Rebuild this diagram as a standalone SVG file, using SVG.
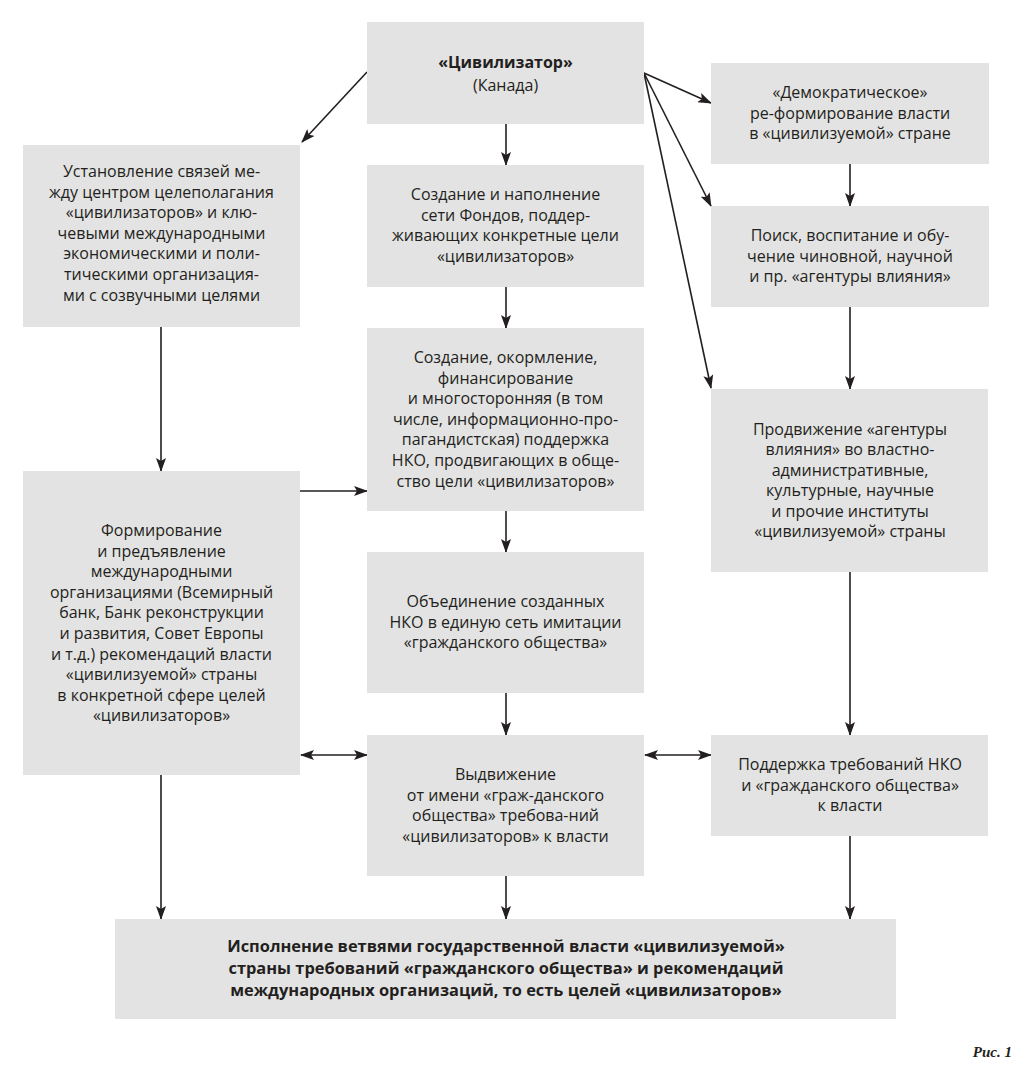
<svg xmlns="http://www.w3.org/2000/svg" width="1033" height="1080" viewBox="0 0 1033 1080">
<style>
.box{fill:#e3e3e3}
.t{font-family:"Open Sans","Noto Sans","DejaVu Sans",sans-serif;font-size:16px;fill:#231f20;text-anchor:middle}
.b{font-weight:bold}
.big{font-size:16.4px}
.c{stroke:#231f20;stroke-width:1.6;fill:none;marker-end:url(#ah)}
.d{marker-start:url(#ahs)}
.cap{font-family:"Liberation Serif",serif;font-size:15px;font-weight:bold;font-style:italic;fill:#231f20}
</style>
<defs>
<marker id="ah" viewBox="0 0 14 10" refX="13" refY="5" markerWidth="14" markerHeight="10" markerUnits="userSpaceOnUse" orient="auto">
<path d="M0,0 L14,5 L0,10 L3,5 z" fill="#231f20"/>
</marker>
<marker id="ahs" viewBox="0 0 14 10" refX="1" refY="5" markerWidth="14" markerHeight="10" markerUnits="userSpaceOnUse" orient="auto">
<path d="M14,0 L0,5 L14,10 L11,5 z" fill="#231f20"/>
</marker>
</defs>
<rect width="1033" height="1080" fill="#ffffff"/>

<g id="connectors">
<line class="c" x1="367" y1="72" x2="302" y2="142"/>
<line class="c" x1="644" y1="73" x2="711" y2="103"/>
<line class="c" x1="644" y1="73" x2="711" y2="206"/>
<line class="c" x1="644" y1="73" x2="711" y2="388"/>
<line class="c" x1="506" y1="124" x2="506" y2="165"/>
<line class="c" x1="506" y1="287" x2="506" y2="328"/>
<line class="c" x1="506" y1="511" x2="506" y2="552"/>
<line class="c" x1="506" y1="693" x2="506" y2="735"/>
<line class="c" x1="506" y1="876" x2="506" y2="919"/>
<line class="c" x1="161" y1="327" x2="161" y2="471"/>
<line class="c" x1="161" y1="775" x2="161" y2="919"/>
<line class="c" x1="850" y1="164" x2="850" y2="206"/>
<line class="c" x1="850" y1="307" x2="850" y2="389"/>
<line class="c" x1="850" y1="572" x2="850" y2="735"/>
<line class="c" x1="850" y1="836" x2="850" y2="919"/>
<line class="c" x1="300" y1="491" x2="367" y2="491"/>
<line class="c d" x1="301" y1="755" x2="367" y2="755"/>
<line class="c d" x1="645" y1="755" x2="711" y2="755"/>
</g>

<g id="n-civ">
<rect class="box" x="367" y="22" width="277" height="102"/>
<text class="t b" x="505.5" y="68">«Цивилизатор»</text>
<text class="t" x="505.5" y="91">(Канада)</text>
</g>

<g id="n-links">
<rect class="box" x="23" y="145" width="277" height="182"/>
<text class="t"><tspan x="161.5" y="177">Установление связей ме-</tspan><tspan x="161.5" dy="20.6">жду центром целеполагания</tspan><tspan x="161.5" dy="20.6">«цивилизаторов» и клю-</tspan><tspan x="161.5" dy="20.6">чевыми международными</tspan><tspan x="161.5" dy="20.6">экономическими и поли-</tspan><tspan x="161.5" dy="20.6">тическими организация-</tspan><tspan x="161.5" dy="20.6">ми с созвучными целями</tspan></text>
</g>

<g id="n-funds">
<rect class="box" x="367" y="165" width="277" height="122"/>
<text class="t"><tspan x="505.5" y="200">Создание и наполнение</tspan><tspan x="505.5" dy="20.6">сети Фондов, поддер-</tspan><tspan x="505.5" dy="20.6">живающих конкретные цели</tspan><tspan x="505.5" dy="20.6">«цивилизаторов»</tspan></text>
</g>

<g id="n-demo">
<rect class="box" x="711" y="63" width="278" height="101"/>
<text class="t"><tspan x="850" y="98">«Демократическое»</tspan><tspan x="850" dy="20.6">ре-формирование власти</tspan><tspan x="850" dy="20.6">в «цивилизуемой» стране</tspan></text>
</g>

<g id="n-search">
<rect class="box" x="711" y="206" width="278" height="101"/>
<text class="t"><tspan x="850" y="241">Поиск, воспитание и обу-</tspan><tspan x="850" dy="20.6">чение чиновной, научной</tspan><tspan x="850" dy="20.6">и пр. «агентуры влияния»</tspan></text>
</g>

<g id="n-nko">
<rect class="box" x="367" y="328" width="277" height="183"/>
<text class="t"><tspan x="505.5" y="363">Создание, окормление,</tspan><tspan x="505.5" dy="20.6">финансирование</tspan><tspan x="505.5" dy="20.6">и многосторонняя (в том</tspan><tspan x="505.5" dy="20.6">числе, информационно-про-</tspan><tspan x="505.5" dy="20.6">пагандистская) поддержка</tspan><tspan x="505.5" dy="20.6">НКО, продвигающих в обще-</tspan><tspan x="505.5" dy="20.6">ство цели «цивилизаторов»</tspan></text>
</g>

<g id="n-intl">
<rect class="box" x="23" y="471" width="277" height="304"/>
<text class="t"><tspan x="161.5" y="536">Формирование</tspan><tspan x="161.5" dy="20.6">и предъявление</tspan><tspan x="161.5" dy="20.6">международными</tspan><tspan x="161.5" dy="20.6">организациями (Всемирный</tspan><tspan x="161.5" dy="20.6">банк, Банк реконструкции</tspan><tspan x="161.5" dy="20.6">и развития, Совет Европы</tspan><tspan x="161.5" dy="20.6">и т.д.) рекомендаций власти</tspan><tspan x="161.5" dy="20.6">«цивилизуемой» страны</tspan><tspan x="161.5" dy="20.6">в конкретной сфере целей</tspan><tspan x="161.5" dy="20.6">«цивилизаторов»</tspan></text>
</g>

<g id="n-promo">
<rect class="box" x="711" y="389" width="277" height="183"/>
<text class="t"><tspan x="850" y="435">Продвижение «агентуры</tspan><tspan x="850" dy="20.4">влияния» во властно-</tspan><tspan x="850" dy="20.4">административные,</tspan><tspan x="850" dy="20.4">культурные, научные</tspan><tspan x="850" dy="20.4">и прочие институты</tspan><tspan x="850" dy="20.4">«цивилизуемой» страны</tspan></text>
</g>

<g id="n-union">
<rect class="box" x="367" y="552" width="277" height="141"/>
<text class="t"><tspan x="505.5" y="607">Объединение созданных</tspan><tspan x="505.5" dy="20.6">НКО в единую сеть имитации</tspan><tspan x="505.5" dy="20.6">«гражданского общества»</tspan></text>
</g>

<g id="n-demands">
<rect class="box" x="367" y="735" width="277" height="141"/>
<text class="t"><tspan x="505.5" y="780">Выдвижение</tspan><tspan x="505.5" dy="20.6">от имени «граж-данского</tspan><tspan x="505.5" dy="20.6">общества» требова-ний</tspan><tspan x="505.5" dy="20.6">«цивилизаторов» к власти</tspan></text>
</g>

<g id="n-support">
<rect class="box" x="711" y="735" width="277" height="101"/>
<text class="t"><tspan x="850" y="770">Поддержка требований НКО</tspan><tspan x="850" dy="20.6">и «гражданского общества»</tspan><tspan x="850" dy="20.6">к власти</tspan></text>
</g>

<g id="n-result">
<rect class="box" x="115" y="919" width="781" height="100"/>
<text class="t b big"><tspan x="506" y="952">Исполнение ветвями государственной власти «цивилизуемой»</tspan><tspan x="506" dy="22">страны требований «гражданского общества» и рекомендаций</tspan><tspan x="506" dy="22">международных организаций, то есть целей «цивилизаторов»</tspan></text>
</g>

<text class="cap" x="1012" y="1057" text-anchor="end">Рис. 1</text>
</svg>
